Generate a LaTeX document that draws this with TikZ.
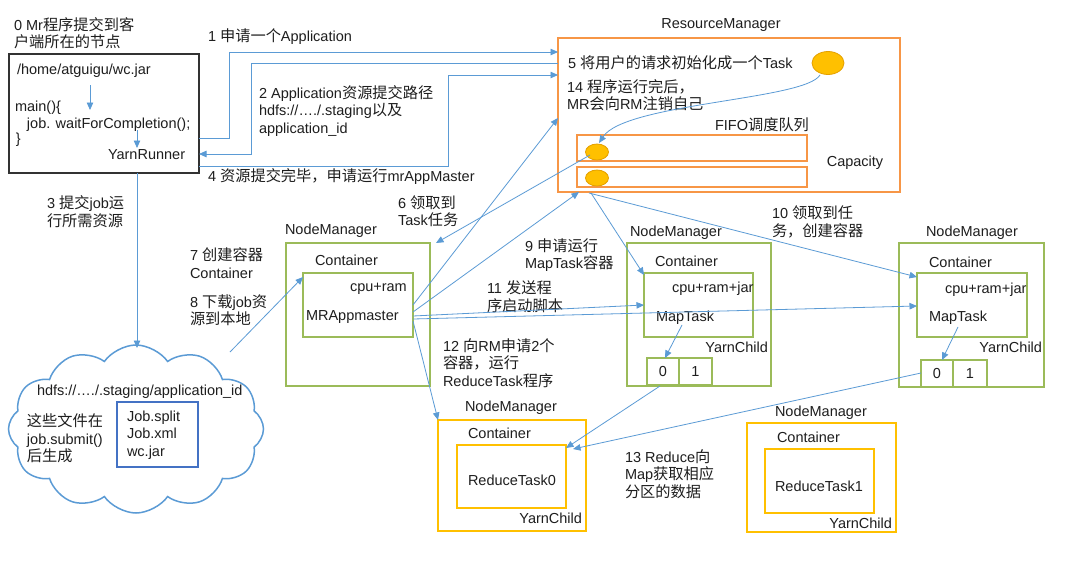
\documentclass[tikz,border=0pt]{standalone}
\usepackage{fontspec}
\setmainfont{Liberation Sans}
\newfontfamily\cjkfont[Scale=1.05]{Noto Sans CJK SC}
\usetikzlibrary{arrows.meta,shapes.symbols,shapes.geometric}
\newXeTeXintercharclass\cjkcls
\newcount\cjkcnt
\def\cjkrange#1#2{\cjkcnt=#1\relax\loop\XeTeXcharclass\cjkcnt=\cjkcls\relax\ifnum\cjkcnt<#2\relax\advance\cjkcnt by 1\relax\repeat}
\cjkrange{"4E00}{"9FFF}
\cjkrange{"3000}{"303F}
\cjkrange{"FF00}{"FFEF}
\XeTeXinterchartoks 0 \cjkcls = {\begingroup\cjkfont}
\XeTeXinterchartoks 4095 \cjkcls = {\begingroup\cjkfont}
\XeTeXinterchartoks \cjkcls 0 = {\endgroup}
\XeTeXinterchartoks \cjkcls 4095 = {\endgroup}
\definecolor{textc}{RGB}{30,30,30}
\definecolor{arrowc}{RGB}{91,155,213}
\definecolor{orangec}{RGB}{247,150,70}
\definecolor{greenc}{RGB}{155,187,89}
\definecolor{yellowc}{RGB}{255,192,0}
\definecolor{ellfill}{RGB}{255,192,0}
\definecolor{elldraw}{RGB}{228,160,0}
\definecolor{bluebox}{RGB}{68,114,196}
\definecolor{clientc}{RGB}{50,50,50}
\tikzset{
  txt/.style={inner sep=0pt, outer sep=0pt, anchor=west, align=left, text=textc, font=\fontsize{14.5}{17.5}\selectfont},
  arr/.style={draw=arrowc, line width=0.8pt, -{Triangle[length=7.5pt,width=6.5pt]}},
  boxbase/.style={rectangle, inner sep=0pt, outer sep=0pt},
  clientbox/.style={boxbase, draw=clientc, line width=1.5pt},
  rmbox/.style={boxbase, draw=orangec, line width=1.3pt},
  gbox/.style={boxbase, draw=greenc, line width=1.3pt},
  ybox/.style={boxbase, draw=yellowc, line width=1.5pt},
  bbox/.style={boxbase, draw=bluebox, line width=1.2pt},
  cell/.style={gbox, text=textc, font=\fontsize{14.5}{17.5}\selectfont},
  oval/.style={ellipse, draw=elldraw, fill=ellfill, line width=0.8pt, inner sep=0pt},
}
\begin{document}
\XeTeXinterchartokenstate=1
\begin{tikzpicture}[x=1pt,y=-1pt]
\useasboundingbox (0,0) rectangle (1078,570);
\fill[white] (0,0) rectangle (1078,570);

% ---------- client ----------
\node[clientbox, minimum width=190pt, minimum height=119pt] (client) at (104,113.5) {};
\node[txt] (t0) at (14,33) {0 Mr程序提交到客\\户端所在的节点};
\node[txt] (tjar) at (17,71) {/home/atguigu/wc.jar};
\node[txt] (tmain) at (15,108) {main()\{};
\node[txt] (tjob) at (27,125) {job. waitForCompletion();};
\node[txt] (tbr) at (16,140) {\}};
\node[txt] (tyr) at (108,155) {YarnRunner};
\coordinate (jar1) at (90,85);
\coordinate (jar2) at (90,110);
\coordinate (yr1) at (137,130);
\coordinate (yr2) at (137,148);
\draw[arr] (jar1) -- (jar2);
\draw[arr] (yr1) -- (yr2);

% ---------- ResourceManager ----------
\node[rmbox, minimum width=342pt, minimum height=154pt] (rm) at (729,115) {};
\node[txt, anchor=center] (trm) at (721,25) {ResourceManager};
\node[txt] (t5) at (568,63) {5 将用户的请求初始化成一个Task};
\node[txt] (t14) at (567,95) {14 程序运行完后，\\MR会向RM注销自己};
\node[txt, anchor=center] (tfifo) at (762,125) {FIFO调度队列};
\node[txt, anchor=center] (tcap) at (855,163) {Capacity};
\node[rmbox, minimum width=230pt, minimum height=26pt] (q1) at (692,148) {};
\node[rmbox, minimum width=230pt, minimum height=20pt] (q2) at (692,177) {};
\node[oval, minimum width=32pt, minimum height=23pt] (bigell) at (828,63) {};
\node[oval, minimum width=23pt, minimum height=16pt] (ell1) at (597,152) {};
\node[oval, minimum width=23pt, minimum height=16pt] (ell2) at (597,178) {};
\coordinate (cv1) at (820,75);
\coordinate (cv2) at (599,143);
\draw[arr] (cv1) .. controls (805,100) and (625,103) .. (cv2);

% ---------- labels between ----------
\node[txt] (t1) at (208,37) {1 申请一个Application};
\node[txt] (t2) at (259,111) {2 Application资源提交路径\\hdfs://…./.staging以及\\application\_id};
\node[txt] (t4) at (208,177) {4 资源提交完毕，申请运行mrAppMaster};
\node[txt] (t3) at (47,211.5) {3 提交job运\\行所需资源};
\node[txt] (t6) at (398,211) {6 领取到\\Task任务};
\node[txt] (t7) at (190,263) {7 创建容器\\Container};
\node[txt] (t8) at (190,310) {8 下载job资\\源到本地};
\node[txt] (t9) at (525,255) {9 申请运行\\MapTask容器};
\node[txt] (t10) at (772,222) {10 领取到任\\务，创建容器};
\node[txt] (t11) at (487,296.5) {11 发送程\\序启动脚本};
\node[txt] (t12) at (443,363) {12 向RM申请2个\\容器，运行\\ReduceTask程序};
\node[txt] (t13) at (625,474) {13 Reduce向\\Map获取相应\\分区的数据};

% ---------- NodeManager 1 ----------
\node[gbox, minimum width=144pt, minimum height=143pt] (nm1) at (358,314.5) {};
\node[gbox, minimum width=110pt, minimum height=64pt] (nm1in) at (358,305) {};
\node[txt] (nm1l) at (285,231) {NodeManager};
\node[txt] (nm1c) at (315,260) {Container};
\node[txt] (nm1cpu) at (350,289) {cpu+ram};
\node[txt] (nm1mr) at (306,317) {MRAppmaster};

% ---------- NodeManager 2 ----------
\node[gbox, minimum width=144pt, minimum height=143pt] (nm2) at (699,314.5) {};
\node[gbox, minimum width=109pt, minimum height=64pt] (nm2in) at (698.5,305) {};
\node[txt] (nm2l) at (630,233) {NodeManager};
\node[txt] (nm2c) at (655,261) {Container};
\node[txt] (nm2cpu) at (672,289) {cpu+ram+jar};
\node[txt] (nm2mt) at (656,318) {MapTask};
\node[txt, anchor=east] (nm2yc) at (768,347) {YarnChild};
\node[cell, minimum width=32pt, minimum height=27pt] (c20) at (663,371.5) {0};
\node[cell, minimum width=33pt, minimum height=27pt] (c21) at (695.5,371.5) {1};

% ---------- NodeManager 3 ----------
\node[gbox, minimum width=145pt, minimum height=144pt] (nm3) at (971.5,315) {};
\node[gbox, minimum width=110pt, minimum height=64pt] (nm3in) at (972,305) {};
\node[txt] (nm3l) at (926,233) {NodeManager};
\node[txt] (nm3c) at (929,262) {Container};
\node[txt] (nm3cpu) at (945,290) {cpu+ram+jar};
\node[txt] (nm3mt) at (929,318) {MapTask};
\node[txt, anchor=east] (nm3yc) at (1042,347) {YarnChild};
\node[cell, minimum width=32pt, minimum height=27pt] (c30) at (937,373.5) {0};
\node[cell, minimum width=34pt, minimum height=27pt] (c31) at (970,373.5) {1};

% ---------- Reduce NodeManagers ----------
\node[ybox, minimum width=148pt, minimum height=111pt] (rn0) at (512,475.5) {};
\node[ybox, minimum width=109pt, minimum height=63pt] (rn0in) at (511.5,476.5) {};
\node[txt] (rn0l) at (465,408) {NodeManager};
\node[txt] (rn0c) at (468,433) {Container};
\node[txt] (rn0t) at (468,480) {ReduceTask0};
\node[txt, anchor=east] (rn0yc) at (582,518) {YarnChild};

\node[ybox, minimum width=149pt, minimum height=109pt] (rn1) at (821.5,477.5) {};
\node[ybox, minimum width=109pt, minimum height=64pt] (rn1in) at (819.5,481) {};
\node[txt] (rn1l) at (775,413) {NodeManager};
\node[txt] (rn1c) at (777,437) {Container};
\node[txt] (rn1t) at (775,486) {ReduceTask1};
\node[txt, anchor=east] (rn1yc) at (892,523) {YarnChild};

% ---------- cloud ----------
\node[cloud, cloud puffs=12, cloud puff arc=110, draw=arrowc, line width=1.5pt, minimum width=255pt, minimum height=168pt, inner sep=0pt] (cloud) at (136,429) {};
\node[txt] (thdfs) at (37,392) {hdfs://…./.staging/application\_id};
\node[txt] (tfiles) at (27,438.5) {这些文件在\\job.submit()\\后生成};
\node[bbox, minimum width=81pt, minimum height=65pt] (jobbox) at (157.5,434.5) {};
\node[txt] (tjobs) at (127,435) {Job.split\\Job.xml\\wc.jar};

% ---------- connectors ----------
\coordinate (a1s) at (199,138);  \coordinate (a1e) at (558,52);
\coordinate (a2s) at (558,63);   \coordinate (a2e) at (199,154);
\coordinate (a4s) at (199,166);  \coordinate (a4e) at (558,75);
\draw[arr] (a1s) -| (229,52) -- (a1e);
\draw[arr] (a2s) -| (251,154) -- (a2e);
\draw[arr] (a4s) -| (448,75) -- (a4e);

\coordinate (a3s) at (137,173);  \coordinate (a3e) at (137,348);
\draw[arr] (a3s) -- (a3e);
\coordinate (a8s) at (230,352);  \coordinate (a8e) at (303,277);
\draw[arr] (a8s) -- (a8e);

\coordinate (a6s) at (590,155);  \coordinate (a6e) at (436,243);
\draw[arr] (a6s) -- (a6e);
\coordinate (aAs) at (413,305);  \coordinate (aAe) at (558,118);
\draw[arr] (aAs) -- (aAe);
\coordinate (a9s) at (413,312);  \coordinate (a9e) at (579,192);
\draw[arr] (a9s) -- (a9e);
\coordinate (b1s) at (413,316);  \coordinate (b1e) at (644,305);
\draw[arr] (b1s) -- (b1e);
\coordinate (b2s) at (413,319);  \coordinate (b2e) at (917,306);
\draw[arr] (b2s) -- (b2e);
\coordinate (a12s) at (413,321); \coordinate (a12e) at (438,420);
\draw[arr] (a12s) -- (a12e);
\coordinate (a10s) at (591,193); \coordinate (a10e) at (644,275);
\draw[arr] (a10s) -- (a10e);
\coordinate (a10bs) at (589,193); \coordinate (a10be) at (917,277);
\draw[arr] (a10bs) -- (a10be);

\coordinate (m2s) at (682,325);  \coordinate (m2e) at (665,358);
\draw[arr] (m2s) -- (m2e);
\coordinate (m3s) at (958,327);  \coordinate (m3e) at (942,360);
\draw[arr] (m3s) -- (m3e);

\coordinate (r1s) at (660,386);  \coordinate (r1e) at (566,448);
\draw[arr] (r1s) -- (r1e);
\coordinate (r2s) at (921,373);  \coordinate (r2e) at (573,449);
\draw[arr] (r2s) -- (r2e);
\end{tikzpicture}
\end{document}
